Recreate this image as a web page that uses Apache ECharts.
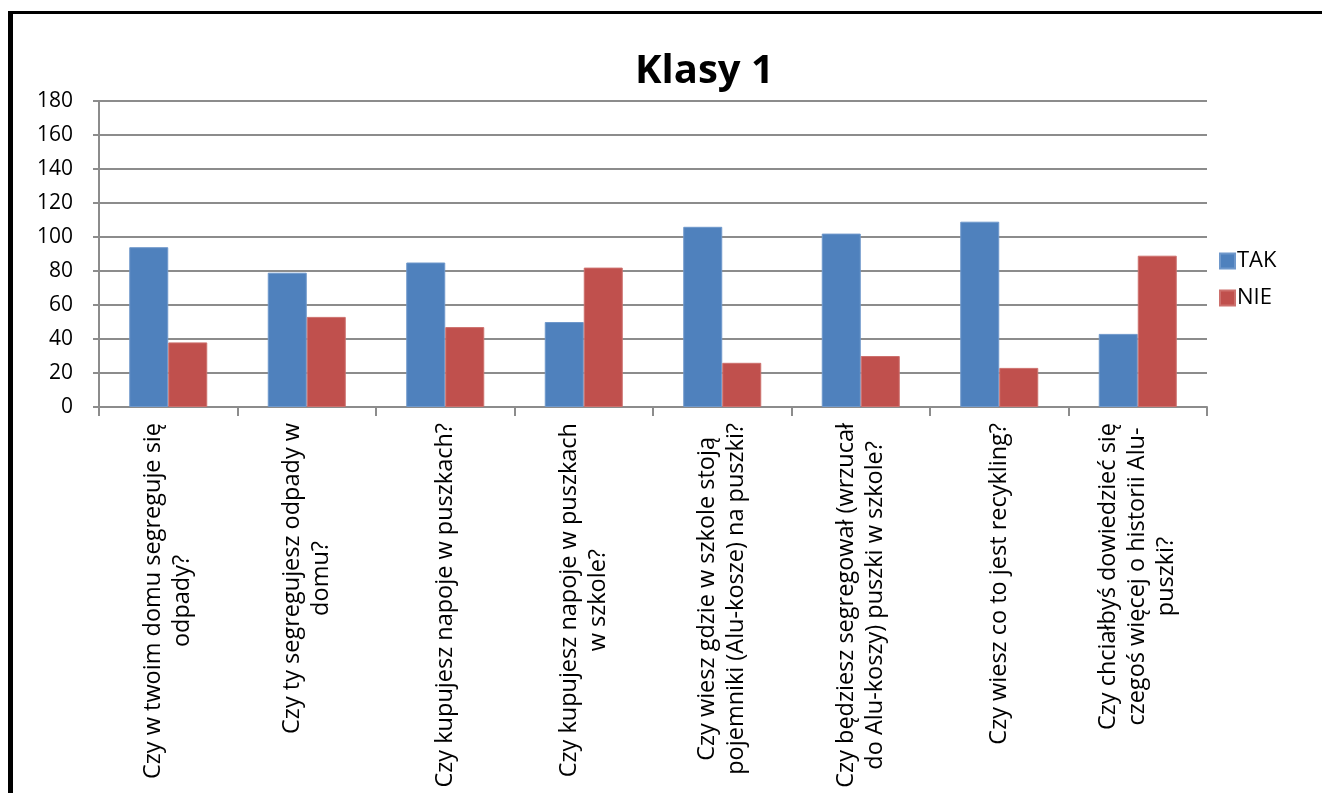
<!DOCTYPE html>
<html>
<head>
<meta charset="utf-8">
<script src="https://cdn.jsdelivr.net/npm/echarts@6/dist/echarts.min.js"></script>
<style>
html,body{margin:0;padding:0;background:#fff;}
#chart{width:1322px;height:793px;}
</style>
</head>
<body>
<div id="chart"></div>
<script>
const categories = [
  "Czy w twoim domu segreguje się\nodpady?",
  "Czy ty segregujesz odpady w\ndomu?",
  "Czy kupujesz napoje w puszkach?",
  "Czy kupujesz napoje w puszkach\nw szkole?",
  "Czy wiesz gdzie w szkole stoją\npojemniki (Alu-kosze) na puszki?",
  "Czy będziesz segregował (wrzucał\ndo Alu-koszy) puszki w szkole?",
  "Czy wiesz co to jest recykling?",
  "Czy chciałbyś dowiedzieć się\nczegoś więcej o historii Alu-\npuszki?"
];
const takValues = [94, 79, 85, 50, 106, 102, 109, 43];
const nieValues = [38, 53, 47, 82, 26, 30, 23, 89];
const seriesNames = ["TAK", "NIE"];
const titleText = "Klasy 1";

const FONT = "'Open Sans', 'Noto Sans', sans-serif";
const chart = echarts.init(document.getElementById('chart'), null, {renderer: 'canvas'});
const option = {
  backgroundColor: '#ffffff',
  animation: false,
  title: {
    text: titleText,
    left: 630,
    top: 47,
    textStyle: {fontFamily: FONT, fontSize: 40, fontWeight: 'bold', color: '#000'}
  },
  legend: {
    orient: 'vertical',
    left: 1214,
    top: 245,
    itemWidth: 15,
    itemHeight: 15,
    itemGap: 15,
    icon: 'rect',
    data: seriesNames,
    textStyle: {fontFamily: FONT, fontSize: 22, color: '#000', padding: [0, 0, 0, -3]}
  },
  grid: {left: 99, right: 115, top: 101, bottom: 386, containLabel: false},
  xAxis: {
    type: 'category',
    data: categories,
    axisLine: {lineStyle: {color: '#8c8c8c', width: 2}},
    axisTick: {show: true, length: 9, lineStyle: {color: '#8c8c8c', width: 2}},
    axisLabel: {
      interval: 0,
      rotate: 90,
      margin: 16,
      color: '#000',
      formatter: function (v) {
        return v.split('\n').map(function (l) { return '{c|' + l + '}'; }).join('\n');
      },
      rich: {
        c: {align: 'center', fontFamily: FONT, fontSize: 23.5, lineHeight: 29, color: '#000'}
      }
    }
  },
  yAxis: {
    type: 'value',
    min: 0,
    max: 180,
    interval: 20,
    axisLine: {show: true, lineStyle: {color: '#8c8c8c', width: 2}},
    axisTick: {show: true, length: 6, lineStyle: {color: '#8c8c8c', width: 2}},
    axisLabel: {fontFamily: FONT, fontSize: 21, color: '#000', margin: 26},
    splitLine: {show: true, lineStyle: {color: '#8c8c8c', width: 2}}
  },
  series: [
    {
      name: seriesNames[0],
      type: 'bar',
      data: takValues,
      barWidth: 39,
      barGap: '0%',
      itemStyle: {color: '#4F81BD', borderColor: '#6F98CB', borderWidth: 1}
    },
    {
      name: seriesNames[1],
      type: 'bar',
      data: nieValues,
      barWidth: 39,
      barGap: '0%',
      itemStyle: {color: '#C0504D', borderColor: '#CD706D', borderWidth: 1}
    }
  ],
  graphic: [
    {type: 'rect', shape: {x: 8, y: 11, width: 5, height: 800}, style: {fill: '#000'}, silent: true},
    {type: 'rect', shape: {x: 8, y: 11, width: 1400, height: 3}, style: {fill: '#000'}, silent: true}
  ]
};
chart.setOption(option);
</script>
</body>
</html>
